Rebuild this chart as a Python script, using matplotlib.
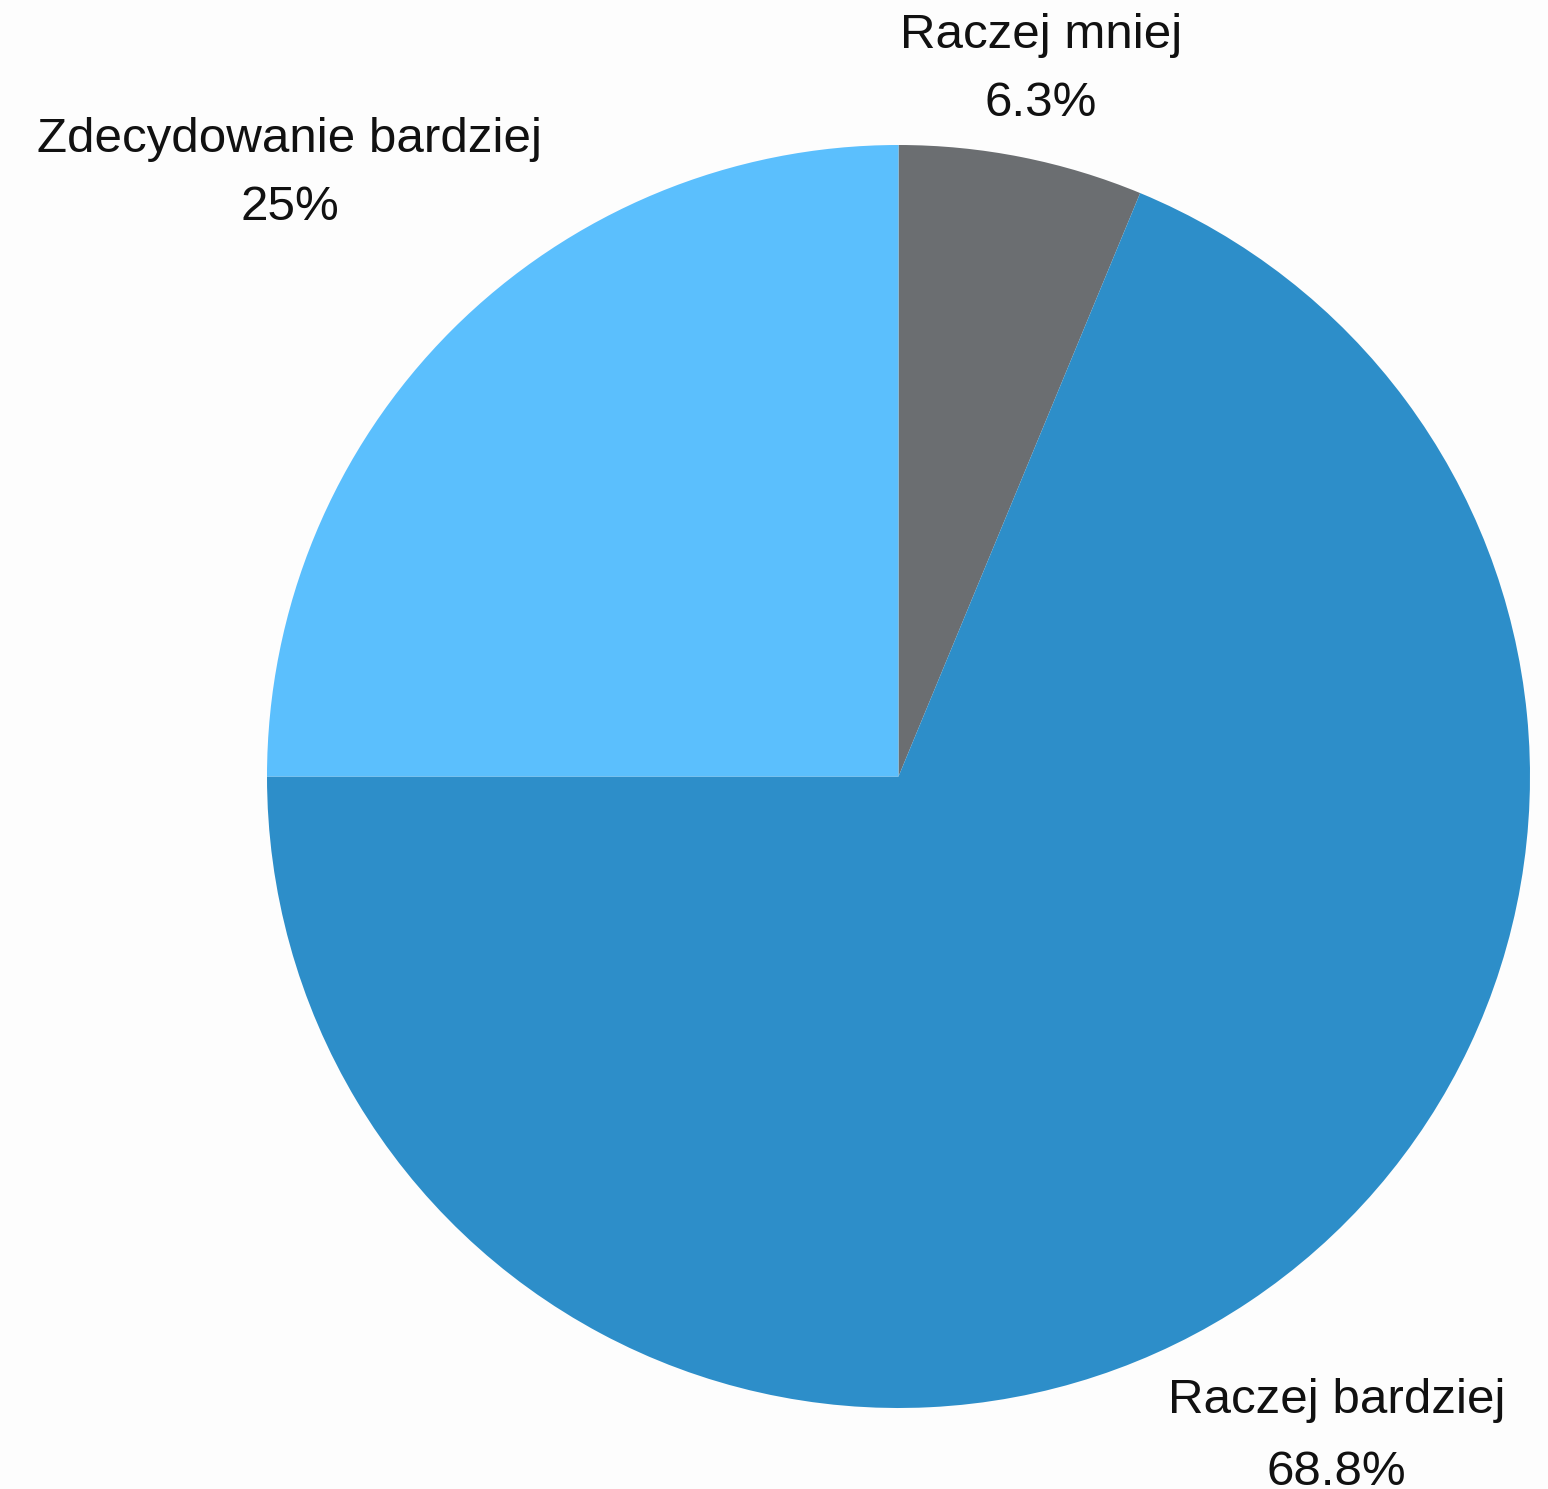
import matplotlib
matplotlib.use("Agg")
import matplotlib.pyplot as plt

categories = ["Raczej mniej", "Raczej bardziej", "Zdecydowanie bardziej"]
values = [6.25, 68.75, 25.0]
pct_labels = ["6.3%", "68.8%", "25%"]
colors = ["#6b6e71", "#2d8ec9", "#5bbffd"]

plt.rcParams['font.family'] = ['Liberation Sans', 'DejaVu Sans']

W, H = 1548, 1489
fig = plt.figure(figsize=(W / 100, H / 100), dpi=100)
bg = "#fdfdfd"
fig.patch.set_facecolor(bg)
ax = fig.add_axes([0, 0, 1, 1])
ax.set_facecolor(bg)

cx, cy, R = 898.5, 776.5, 631.5
ax.pie(values, colors=colors, startangle=90, counterclock=False,
       radius=1.0, center=(0, 0), wedgeprops=dict(linewidth=0))
ax.set_xlim(-cx / R, (W - cx) / R)
ax.set_ylim(-(H - cy) / R, cy / R)
ax.set_aspect('auto')
ax.axis('off')

# label positions (name baseline, pct baseline) in pie units
label_pos = {
    "Raczej mniej": (0.2257, 1.1536, 1.0459),
    "Raczej bardziej": (0.6936, -1.0079, -1.1219),
    "Zdecydowanie bardziej": (-0.9636, 0.989, 0.881),
}
fs = 35.5
for cat, pct in zip(categories, pct_labels):
    x, y1, y2 = label_pos[cat]
    ax.text(x, y1, cat, ha='center', va='baseline', fontsize=fs, color='#111111')
    ax.text(x, y2, pct, ha='center', va='baseline', fontsize=fs, color='#111111')

fig.savefig("out.png", dpi=100, facecolor=bg)
